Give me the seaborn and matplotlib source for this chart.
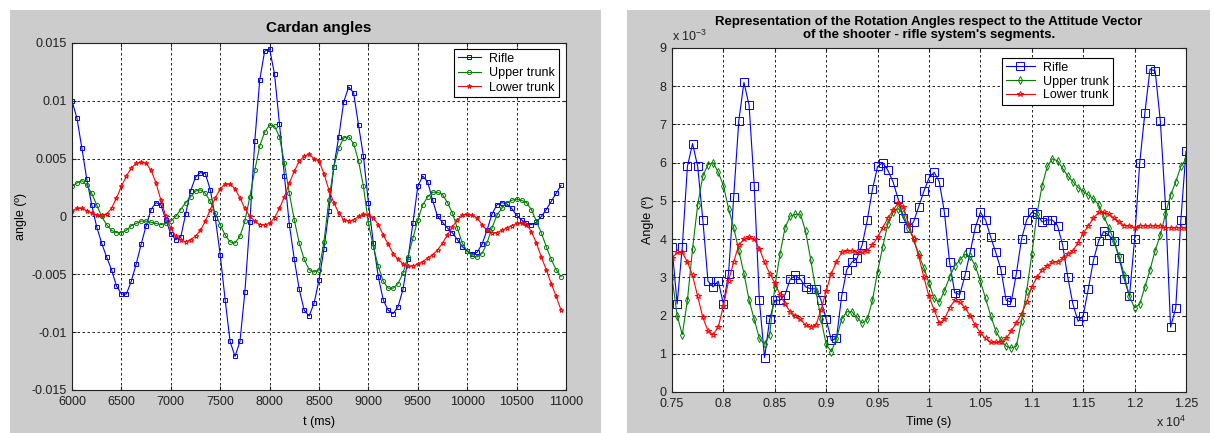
import numpy as np
import matplotlib
matplotlib.use("Agg")
import matplotlib.pyplot as plt
import seaborn as sns
from matplotlib.patches import Rectangle

# ---- data (angles in units of 1e-3) ----
# left panel: t in ms, 50 ms steps
t_left = np.arange(6000, 11000, 50)

rifle_left = [10.0, 8.5, 5.9, 3.2, 1.0, -0.9, -2.3, -3.5, -4.6, -6.0,
              -6.7, -6.7, -5.6, -4.1, -2.4, -0.8, 0.6, 1.2, 1.0, -0.3,
              -1.5, -2.0, -1.8, 0.2, 2.2, 3.4, 3.8, 3.7, 2.3, -0.1,
              -3.3, -7.2, -10.8, -12.1, -10.8, -6.5, -0.5, 6.5, 11.8, 14.3,
              14.5, 12.3, 8.0, 3.5, -0.7, -3.7, -6.3, -8.1, -8.6, -7.5,
              -5.5, -2.8, 0.5, 4.3, 6.9, 9.9, 11.2, 10.7, 7.9, 5.2,
              1.2, -2.3, -5.2, -7.2, -8.1, -8.4, -7.8, -6.3, -3.7, -0.6,
              2.6, 3.5, 3.0, 1.4, 0.0, -0.5, -1.0, -1.4, -2.0, -2.6,
              -3.0, -3.2, -3.1, -2.4, -1.2, 0.2, 1.0, 1.2, 1.1, 0.7,
              0.1, -0.3, -0.6, -0.7, -0.5, 0.0, 0.6, 1.3, 2.0, 2.7]

upper_left = [2.6, 2.9, 3.1, 2.7, 2.0, 1.0, 0.0, -0.7, -1.2, -1.4,
              -1.4, -1.2, -0.8, -0.6, -0.4, -0.4, -0.5, -0.6, -0.7, -0.6,
              -0.4, 0.0, 0.6, 1.2, 1.7, 2.2, 2.3, 2.0, 1.3, 0.3,
              -0.7, -1.6, -2.2, -2.3, -1.7, -0.4, 1.7, 4.0, 6.1, 7.3,
              7.9, 7.8, 6.9, 4.6, 2.0, -0.3, -2.3, -3.7, -4.6, -4.8,
              -4.6, -2.2, 1.4, 4.3, 5.9, 6.8, 6.9, 6.3, 4.8, 2.6,
              -0.6, -2.6, -4.3, -5.6, -6.2, -6.2, -5.8, -4.9, -3.5, -1.9,
              -0.3, 1.0, 1.7, 2.1, 2.1, 1.9, 1.2, 0.3, -1.0, -2.3,
              -3.0, -3.4, -3.5, -3.2, -2.3, -1.0, 0.1, 0.7, 1.2, 1.4,
              1.5, 1.4, 1.2, 0.6, -0.4, -1.4, -2.6, -3.7, -4.6, -5.2]

lower_left = [0.5, 0.7, 0.7, 0.5, 0.3, 0.1, 0.1, 0.2, 0.7, 1.6,
              2.6, 3.5, 4.2, 4.6, 4.7, 4.6, 4.0, 2.9, 1.4, 0.0,
              -1.0, -1.7, -2.0, -2.2, -2.0, -1.7, -1.2, -0.4, 0.6, 1.6,
              2.4, 2.8, 2.8, 2.4, 1.6, 0.7, 0.0, -0.4, -0.7, -0.7,
              -0.6, -0.1, 0.7, 1.7, 2.9, 3.9, 4.8, 5.2, 5.4, 5.0,
              4.8, 3.7, 2.3, 1.2, 0.3, -0.3, -0.4, -0.3, 0.0, 0.2,
              0.1, -0.1, -0.7, -1.6, -2.4, -3.2, -3.7, -4.1, -4.3, -4.3,
              -4.1, -3.9, -3.6, -3.3, -2.9, -2.3, -1.6, -0.9, -0.3, 0.1,
              0.2, 0.1, -0.1, -0.7, -1.2, -1.4, -1.4, -1.2, -1.0, -0.8,
              -0.6, -0.6, -0.7, -1.3, -2.3, -3.5, -4.6, -5.8, -6.9, -8.1]

# right panel: time in ms (axis shown as x 10^4), 50 ms steps
t_right = np.arange(7500, 12550, 50)

rifle_right = [3.8, 2.3, 3.8, 5.9, 6.5, 5.9, 4.5, 2.9, 2.75, 2.9,
               2.3, 3.1, 5.1, 7.1, 8.1, 7.5, 5.4, 2.4, 0.9, 1.9,
               2.4, 2.4, 2.55, 2.95, 3.05, 2.95, 2.75, 2.7, 2.7, 2.4,
               1.9, 1.35, 1.4, 2.5, 3.2, 3.4, 3.5, 3.85, 4.5, 5.3,
               5.9, 6.0, 5.8, 5.5, 5.05, 4.55, 4.3, 4.45, 4.85, 5.25,
               5.6, 5.75, 5.5, 4.7, 3.4, 2.6, 2.55, 3.05, 3.65, 4.3,
               4.7, 4.5, 4.05, 3.65, 3.2, 2.4, 2.35, 3.1, 4.0, 4.5,
               4.7, 4.65, 4.45, 4.5, 4.5, 4.35, 3.85, 3.0, 2.3, 1.85,
               2.0, 2.7, 3.45, 3.95, 4.2, 4.1, 3.95, 3.5, 2.95, 2.5,
               4.0, 6.0, 7.3, 8.45, 8.4, 7.1, 4.9, 1.7, 2.2, 4.5,
               6.3]

upper_right = [3.0, 2.0, 1.5, 2.4, 3.75, 4.9, 5.65, 5.95, 6.0, 5.75,
               5.4, 4.8, 4.3, 3.7, 3.1, 2.4, 1.9, 1.4, 1.25, 1.5,
               2.75, 3.6, 4.3, 4.6, 4.65, 4.65, 4.2, 3.45, 2.65, 1.9,
               1.25, 1.05, 1.4, 1.9, 2.1, 2.1, 1.95, 1.8, 1.9, 2.4,
               3.15, 3.8, 4.4, 4.7, 4.8, 4.65, 4.3, 4.0, 3.6, 3.25,
               2.85, 2.45, 2.35, 2.65, 3.0, 3.3, 3.45, 3.6, 3.55, 3.3,
               2.9, 2.45, 2.0, 1.6, 1.35, 1.2, 1.15, 1.2, 1.85, 2.65,
               3.6, 4.65, 5.4, 5.9, 6.1, 6.05, 5.85, 5.65, 5.5, 5.35,
               5.25, 5.15, 5.05, 4.9, 4.6, 4.3, 3.95, 3.55, 3.05, 2.5,
               2.2, 2.3, 2.75, 3.2, 3.7, 4.1, 4.65, 5.15, 5.5, 5.9,
               6.1]

lower_right = [3.5, 3.65, 3.65, 3.4, 3.05, 2.5, 1.95, 1.6, 1.5, 1.7,
               2.25, 2.9, 3.4, 3.85, 4.0, 4.05, 4.0, 3.75, 3.4, 3.1,
               2.85, 2.55, 2.3, 2.1, 2.0, 1.9, 1.75, 1.7, 1.75, 2.15,
               2.65, 3.1, 3.4, 3.65, 3.7, 3.7, 3.65, 3.65, 3.7, 3.85,
               4.05, 4.3, 4.55, 4.75, 4.95, 4.85, 4.4, 4.0, 3.55, 3.0,
               2.5, 2.15, 1.8, 1.9, 2.2, 2.4, 2.35, 2.2, 2.0, 1.75,
               1.55, 1.4, 1.3, 1.3, 1.3, 1.4, 1.6, 1.8, 2.05, 2.35,
               2.75, 3.0, 3.2, 3.3, 3.4, 3.4, 3.5, 3.6, 3.7, 3.9,
               4.15, 4.35, 4.55, 4.7, 4.7, 4.65, 4.55, 4.45, 4.35, 4.35,
               4.3, 4.35, 4.35, 4.35, 4.35, 4.35, 4.3, 4.3, 4.3, 4.3,
               4.3]

labels = ["Rifle", "Upper trunk", "Lower trunk"]
BLUE, GREEN, RED = (0, 0, 1), (0, 0.5, 0), (1, 0, 0)

plt.rcParams["font.family"] = ["Liberation Sans", "DejaVu Sans"]
plt.rcParams["axes.unicode_minus"] = False
plt.rcParams["mathtext.fontset"] = "custom"
plt.rcParams["mathtext.rm"] = "Liberation Sans"

W, H = 1215, 433
fig = plt.figure(figsize=(W / 100, H / 100), dpi=100, facecolor="white")

# grey figure backgrounds of the two matlab windows
for x0, x1 in [(10, 601), (627, 1210)]:
    fig.patches.append(Rectangle((x0 / W, 0), (x1 - x0) / W, (H - 10) / H,
                                 transform=fig.transFigure, facecolor="#cccccc",
                                 edgecolor="none", zorder=-10))


def px_axes(x0, y0, x1, y1):
    return fig.add_axes([x0 / W, 1 - y1 / H, (x1 - x0) / W, (y1 - y0) / H])


def style_axes(ax):
    ax.set_facecolor("white")
    ax.grid(True, color="black", linestyle=(0, (3, 3)), linewidth=0.6)
    ax.set_axisbelow(True)
    for s in ax.spines.values():
        s.set_color("#202020")
        s.set_linewidth(0.8)
    ax.tick_params(direction="in", length=3, labelsize=9, colors="#202020",
                   top=True, right=True, pad=4)


# ---- left: Cardan angles ----
ax1 = px_axes(72, 43, 566, 390)
left_series = [rifle_left, upper_left, lower_left]
left_marks = [("s", 3.2), ("o", 3.0), ("*", 3.5)]
for vals, lab, col, (mk, ms) in zip(left_series, labels, [BLUE, GREEN, RED], left_marks):
    sns.lineplot(x=t_left, y=np.array(vals) * 1e-3, ax=ax1, color=col, lw=0.8,
                 marker=mk, markersize=ms, mfc="none", markeredgecolor=col,
                 markeredgewidth=0.7, label=lab)
style_axes(ax1)
ax1.set_xlim(6000, 11000)
ax1.set_ylim(-0.015, 0.015)
ax1.set_xticks(np.arange(6000, 11001, 500))
ax1.set_yticks(np.arange(-0.015, 0.0151, 0.005))
ax1.set_yticklabels(["-0.015", "-0.01", "-0.005", "0", "0.005", "0.01", "0.015"])
ax1.set_title("Cardan angles", fontsize=11, fontweight="bold", pad=8)
ax1.set_xlabel("t (ms)", fontsize=9, labelpad=6)
ax1.set_ylabel("angle (º)", fontsize=9, labelpad=3)
leg1 = ax1.legend(loc="upper right", bbox_to_anchor=(0.986, 0.983), borderaxespad=0,
                  fontsize=9, frameon=True, fancybox=False, framealpha=1,
                  edgecolor="black", handlelength=1.8, handletextpad=0.7,
                  labelspacing=0.2, borderpad=0.3)
leg1.get_frame().set_linewidth(0.8)

# ---- right: rotation angles ----
ax2 = px_axes(672, 48, 1186, 392)
right_series = [rifle_right, upper_right, lower_right]
right_marks = [("s", 5.2), ("d", 3.6), ("*", 4.0)]
for vals, lab, col, (mk, ms) in zip(right_series, labels, [BLUE, GREEN, RED], right_marks):
    sns.lineplot(x=t_right, y=vals, ax=ax2, color=col, lw=0.8,
                 marker=mk, markersize=ms, mfc="none", markeredgecolor=col,
                 markeredgewidth=0.7, label=lab)
style_axes(ax2)
ax2.set_xlim(7500, 12500)
ax2.set_ylim(0, 9)
xt = np.arange(7500, 12501, 500)
ax2.set_xticks(xt)
ax2.set_xticklabels(["%g" % (v / 1e4) for v in xt])
ax2.set_yticks(np.arange(0, 10, 1))
ax2.set_title("Representation of the Rotation Angles respect to the Attitude Vector\n"
              "of the shooter - rifle system's segments.",
              fontsize=9.5, fontweight="bold", pad=7, linespacing=1.1)
ax2.set_xlabel("Time (s)", fontsize=9, labelpad=5)
ax2.set_ylabel("Angle (º)", fontsize=9, labelpad=4)
ax2.text(0.0, 1.012, r"x 10$^{\mathrm{-3}}$", transform=ax2.transAxes,
         fontsize=9, color="#202020", ha="left", va="bottom")
ax2.text(1.0, -0.102, r"x 10$^{\mathrm{4}}$", transform=ax2.transAxes,
         fontsize=9, color="#202020", ha="right", va="baseline")
leg2 = ax2.legend(loc="upper right", bbox_to_anchor=(0.858, 0.971), borderaxespad=0,
                  fontsize=9, frameon=True, fancybox=False, framealpha=1,
                  edgecolor="black", handlelength=2.3, handletextpad=0.7,
                  labelspacing=0.15, borderpad=0.3)
leg2.get_frame().set_linewidth(0.8)

fig.savefig("out.png", dpi=100, facecolor="white")
